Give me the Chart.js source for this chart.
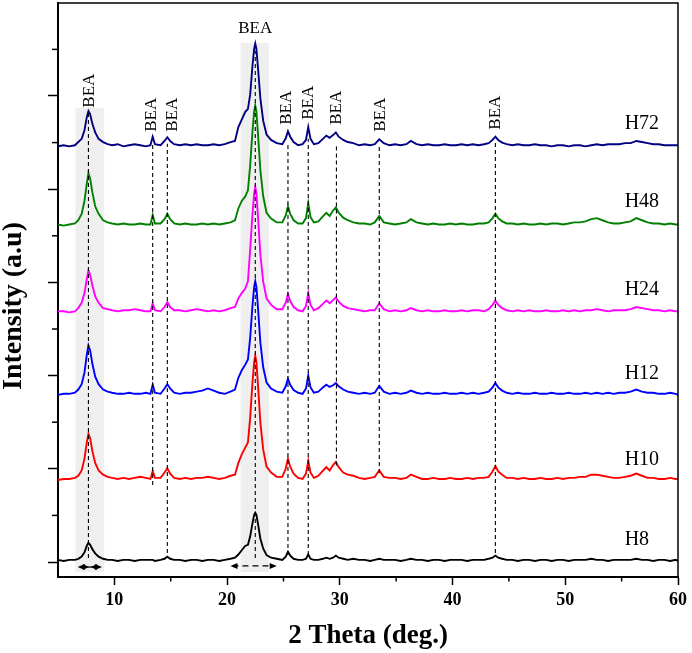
<!DOCTYPE html>
<html><head><meta charset="utf-8">
<script src="https://cdn.jsdelivr.net/npm/chart.js@4.4.1/dist/chart.umd.min.js"></script>
<style>html,body{margin:0;padding:0;background:#fff}#wrap{width:692px;height:653px;position:relative}</style>
</head><body><div id="wrap"><canvas id="c"></canvas></div>
<script>
// ---- data (2θ grid shared by all patterns) ----
const twoTheta = [
 5,5.5,6,6.5,
 6.8,7.1,7.35,7.55,7.7,7.85,8.05,8.3,8.6,9.0,9.4,
 9.8,10.3,10.8,11.3,11.8,12.3,12.8,
 13.2,13.4,13.6,
 14.1,14.45,14.7,14.95,15.3,
 15.8,16.3,16.8,17.3,17.8,18.3,18.8,19.3,19.8,20.3,
 20.7,21.0,21.3,21.6,21.85,22.05,22.25,22.4,22.5,22.6,22.75,22.95,23.2,23.5,23.9,24.4,
 24.9,25.2,25.4,25.6,25.9,26.3,26.7,27.0,27.2,27.4,27.7,28.1,28.5,28.8,29.1,29.4,29.65,29.9,30.3,30.7,31.2,31.7,32.2,32.7,33.1,33.5,33.9,34.4,
 34.9,35.4,35.9,36.3,36.8,37.3,37.8,38.3,38.8,39.3,39.8,40.3,40.8,41.3,41.8,42.3,42.8,43.2,
 43.55,43.8,44.05,44.4,44.8,
 45.3,45.8,46.3,46.8,47.3,47.8,48.3,48.8,49.3,49.8,50.3,50.8,51.3,51.8,52.3,52.8,53.3,53.8,54.3,54.8,55.3,55.8,56.3,56.8,57.3,57.8,58.3,58.8,59.3,59.8,60
];
const sampleNames = ['H8','H10','H12','H24','H48','H72'];
const offsets = [0, 75.5, 155, 232, 313, 387];

const intH8 = [
 2,1,2,2,
 3,5,9,15,18,16,12,8,5,3,2,
 2,1,2,2,1,2,2,
 2,2,1,
 2,3,5,3,2,
 2,1,2,2,1,2,2,1,2,3,
 4,7,11,15,16,24,36,44,46,44,35,22,12.6,6.4,4,3,
 2,5,9.5,6,3,2,2,3,7,3,2,2,3,4,3,4,6,4,3,2,3,2,2,1,2,3,2,2,
 2,1,2,3,2,2,1,2,2,1,2,2,2,1,2,2,2,3,
 4,6,4,3,2,
 2,1,2,2,1,2,2,1,2,2,1,2,2,2,3,2,2,1,2,2,2,2,3,2,2,1,2,2,1,2,1
];
const intH10 = [
 1,2,2,3,
 5,10,21,36,44,40,28,17,10,6,4,
 3,2,3,2,3,4,3,
 2,9.5,3,
 3,8,12,7,3,
 2,3,2,3,3,4,3,2,3,5,
 6,17,25,31,36,59.5,91.7,111,117,111,88,55,29.6,13.5,8,4,
 4,11.5,21,13.4,7,3,2,7,19,8,3,5,9.7,13,10,15,18,13,8,6,5,3,2,3,4,10,4,3,
 3,2,3,6,4,2,2,3,2,2,3,2,2,3,2,3,3,4,
 9,14,9,6,3,
 3,2,3,2,2,3,2,2,3,2,3,3,4,4,6,6,5,4,3,3,4,5,7,5,3,3,2,2,3,2,2
];
const intH12 = [
 1,2,2,3,
 6,11,22,38,47,42.5,30,18,11,6,4,
 3,2,2,3,2,2,3,
 2,10.5,3,
 2,7,11,7,3,
 2,3,3,4,5,7,5,3,2,4,
 6,17,24,29,34,54.5,84,101.75,107,101.75,80.75,50,27,12.5,7,4,
 3,9,16,10.4,5.5,3,2,7,19,8,3,4,8,10.5,8.4,10,12,9,6,4,3,2,3,2,3,9.5,4,2,
 3,2,3,5,3,2,3,2,2,3,2,2,3,2,3,2,3,4,
 8,12,8,5,3,
 2,3,2,2,3,2,2,3,2,2,3,2,2,3,2,3,2,3,2,3,3,4,6,4,3,3,2,2,3,2,1
];
const intH24 = [
 2,2,1,2,
 5,10,19,32,40,36,26,16,10,5,4,
 3,2,3,3,4,3,2,
 2,9.5,3,
 2,6,10.5,6,3,
 3,2,3,4,3,2,3,2,3,5,
 6,14,19,23,30,60,92.5,112,118,112,89,55,30,14,8,4,
 4,10,18,11.6,6,3,2,7,19,8,3,5,9,12,9.5,12.4,15,11,7,5,4,3,2,3,3,9.5,4,2,
 3,2,3,5,3,2,3,2,2,3,2,2,3,2,3,3,2,4,
 8,12,8,5,3,
 2,3,2,3,2,2,3,2,2,3,2,3,2,3,3,4,3,2,3,3,3,4,6,5,4,3,3,2,3,2,2
];
const intH48 = [
 2,1,2,3,
 6,12,24,40,50,45,32,19,12,6,4,
 3,2,3,2,2,3,2,
 2,11,3,
 3,7,12,7,3,
 2,3,2,2,3,2,3,2,3,4,
 6,17,24,28,34,57.5,88.6,107.5,113,107.5,85,53,28.6,13,7.5,4,
 4,10.5,19,12,6,3,3,8,22,9,4,5,9.7,13,10,15,18,13,8.4,6,4,3,3,2,4,10,4,3,
 2,3,4,7,4,3,2,3,2,2,3,2,3,2,2,3,3,4,
 8,12,8,5,3,
 3,2,3,2,2,3,2,3,3,2,3,4,4,5,7,8,6,4,3,3,4,5,8,6,4,3,3,2,3,2,2
];
const intH72 = [
 1,2,1,2,
 5,8,16,28,34,31,22,14,8,5,3,
 2,3,1,2,3,2,1,
 2,10,3,
 2,6,9.5,6,3,
 2,3,2,3,2,2,3,2,3,5,
 6,19,26,33,36,49.5,76,92,97,92,73,46,25,12,7,4,
 3,8.5,15,10,5,2,3,7,19,8,3,4,8,11,9,11.5,14,10,7,5,4,2,3,2,3,7.5,4,2,
 3,2,3,6,3,2,3,2,2,3,2,2,3,2,3,2,3,4,
 7,10,7,4.5,3,
 2,3,2,2,3,2,2,1,2,2,1,2,2,1,2,3,2,3,3,3,4,4,6,5,4,3,3,2,2,2,2
];
const intensities = [intH8, intH10, intH12, intH24, intH48, intH72];

// axis ticks (intensity axis is arbitrary units, unlabeled)
const xTickLabels = [10,20,30,40,50,60];
const xMinorTicks = [15,25,35,45,55];
const yMajorTicks = [0,87,174,261,348,435];
const yMinorTicks = [43.5,130.5,217.5,304.5,391.5,478.5];

// BEA reflections (2θ)
const beaPeaks = [7.7, 13.4, 14.7, 22.5, 25.4, 27.2, 29.7, 33.5, 43.8];

// ---- layout / style (kept apart from the data) ----
const colors = ['#000000','#ff0000','#0000ff','#ff00ff','#008000','#000080'];
const FONT = "'Liberation Serif', 'Times New Roman', serif";
const beaLineSpan = [[3.7,421],[71.8,390.5],[8.4,390.5],[3.7,477],[6.5,390.5],[6.5,395],[90,390.5],[83,388.6],[8.4,393]];
const beaLabelPos = [[7.78,440,'v'],[13.27,417.5,'v'],[15.12,417.5,'v'],[22.5,497.7,'h'],[25.29,424,'v'],[27.24,428.7,'v'],[29.71,424,'v'],[33.6,417.5,'v'],[43.77,419.4,'v']];
const bands = [[6.55,9.1,424,-9.3],[21.2,23.7,484.6,-9.3]];
const arrows = [[6.75,8.9,-4.7,false],[20.3,24.4,-3.7,true]];
const nameLabelPos = [[55.27,20.5],[55.27,95],[55.27,176],[55.27,254.4],[55.27,336.5],[55.27,408.7]];

const datasets = sampleNames.map((n,i)=>({
  label:n,
  data: twoTheta.map((x,j)=>({x:x, y:intensities[i][j]+offsets[i]})),
  borderColor:colors[i], borderWidth:1.9, pointRadius:0, tension:0, fill:false
}));

const deco = {
  id:'deco',
  beforeDatasetsDraw(chart){
    const {ctx, scales:{x,y}} = chart;
    ctx.save();
    ctx.fillStyle = '#efefef';
    bands.forEach(b=>{
      const x1=x.getPixelForValue(b[0]), x2=x.getPixelForValue(b[1]);
      const y1=y.getPixelForValue(b[2]), y2=y.getPixelForValue(b[3]);
      ctx.fillRect(x1,y1,x2-x1,y2-y1);
    });
    ctx.restore();
  },
  afterDatasetsDraw(chart){
    const {ctx, scales:{x,y}} = chart;
    ctx.save();
    ctx.strokeStyle='#000'; ctx.lineWidth=1.1; ctx.setLineDash([4,3]);
    beaPeaks.forEach((p,i)=>{
      const px=x.getPixelForValue(p);
      ctx.beginPath();
      ctx.moveTo(px, y.getPixelForValue(beaLineSpan[i][0]));
      ctx.lineTo(px, y.getPixelForValue(beaLineSpan[i][1]));
      ctx.stroke();
    });
    arrows.forEach(a=>{
      const x1=x.getPixelForValue(a[0]), x2=x.getPixelForValue(a[1]), py=y.getPixelForValue(a[2]);
      ctx.setLineDash(a[3]?[6,4]:[]);
      ctx.lineWidth=1.3;
      ctx.beginPath(); ctx.moveTo(x1+2,py); ctx.lineTo(x2-2,py); ctx.stroke();
      ctx.setLineDash([]);
      ctx.fillStyle='#000';
      ctx.beginPath(); ctx.moveTo(x1,py); ctx.lineTo(x1+7,py-3); ctx.lineTo(x1+7,py+3); ctx.closePath(); ctx.fill();
      ctx.beginPath(); ctx.moveTo(x2,py); ctx.lineTo(x2-7,py-3); ctx.lineTo(x2-7,py+3); ctx.closePath(); ctx.fill();
      if(!a[3]){
        const xm=(x1+x2)/2;
        ctx.beginPath(); ctx.moveTo(xm-1,py); ctx.lineTo(xm-7,py-3); ctx.lineTo(xm-7,py+3); ctx.closePath(); ctx.fill();
        ctx.beginPath(); ctx.moveTo(xm+1,py); ctx.lineTo(xm+7,py-3); ctx.lineTo(xm+7,py+3); ctx.closePath(); ctx.fill();
      }
    });
    ctx.restore();
  },
  afterDraw(chart){
    const {ctx, chartArea:ca, scales:{x,y}} = chart;
    ctx.save();
    ctx.strokeStyle='#000'; ctx.lineWidth=1.5;
    ctx.beginPath(); ctx.moveTo(ca.left,ca.top); ctx.lineTo(ca.right,ca.top); ctx.lineTo(ca.right,ca.bottom); ctx.stroke();
    xMinorTicks.forEach(v=>{const px=x.getPixelForValue(v); ctx.beginPath(); ctx.moveTo(px,ca.bottom); ctx.lineTo(px,ca.bottom+4.5); ctx.stroke();});
    yMinorTicks.forEach(v=>{const py=y.getPixelForValue(v); ctx.beginPath(); ctx.moveTo(ca.left,py); ctx.lineTo(ca.left-6,py); ctx.stroke();});
    ctx.fillStyle='#000';
    ctx.font = "17px " + FONT;
    ctx.textAlign='center'; ctx.textBaseline='middle';
    beaLabelPos.forEach(l=>{
      const px=x.getPixelForValue(l[0]), py=y.getPixelForValue(l[1]);
      if(l[2]==='h'){ ctx.fillText('BEA',px,py); }
      else { ctx.save(); ctx.translate(px,py); ctx.rotate(-Math.PI/2); ctx.fillText('BEA',0,0); ctx.restore(); }
    });
    ctx.font = "20px " + FONT;
    ctx.textAlign='left';
    sampleNames.forEach((n,i)=>{
      ctx.fillText(n, x.getPixelForValue(nameLabelPos[i][0]), y.getPixelForValue(nameLabelPos[i][1]));
    });
    ctx.font = "bold 28px " + FONT;
    ctx.textAlign='center';
    ctx.save(); ctx.translate(14, 306); ctx.rotate(-Math.PI/2); ctx.fillText('Intensity (a.u)',0,0); ctx.restore();
    ctx.restore();
  }
};

Chart.defaults.font.family = FONT;
new Chart(document.getElementById('c'), {
  type:'line',
  data:{datasets},
  options:{
    responsive:true, maintainAspectRatio:false, animation:false,
    layout:{padding:{top:3,right:12,left:0,bottom:0}},
    plugins:{legend:{display:false}, tooltip:{enabled:false}},
    scales:{
      x:{type:'linear', min:5, max:60,
         afterBuildTicks:s=>{s.ticks = xTickLabels.map(v=>({value:v}));},
         afterFit:s=>{s.height=76;},
         ticks:{font:{size:18, weight:'bold'}, color:'#000', padding:5, maxRotation:0, autoSkip:false},
         grid:{drawOnChartArea:false, tickLength:8, tickColor:'#000', tickWidth:1.5, color:'#000'},
         border:{color:'#000', width:2},
         title:{display:true, text:'2 Theta (deg.)', color:'#000', font:{size:27, weight:'bold', lineHeight:1}, padding:{top:0,bottom:3.5}}
      },
      y:{type:'linear', min:-14, max:521.8,
         afterBuildTicks:s=>{s.ticks = yMajorTicks.map(v=>({value:v}));},
         afterFit:s=>{s.width=58;},
         ticks:{display:false},
         grid:{drawOnChartArea:false, tickLength:10, tickColor:'#000', tickWidth:1.5, color:'#000'},
         border:{color:'#000', width:2}
      }
    }
  },
  plugins:[deco]
});
</script>
</body></html>
